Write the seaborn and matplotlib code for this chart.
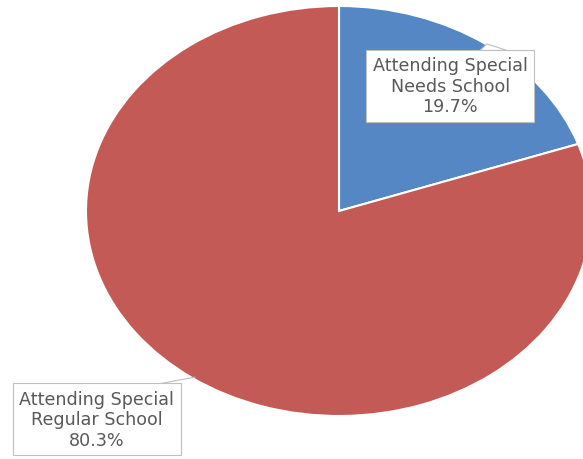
import matplotlib
matplotlib.use("Agg")
import matplotlib.pyplot as plt
import seaborn as sns

# Data
categories = ["Attending Special\nNeeds School", "Attending Special\nRegular School"]
shares = [19.7, 80.3]
slice_colors = ["#5487C4", "#C45A56"]

sns.set_style("white")
plt.rcParams['font.family'] = ['DejaVu Sans']

fig = plt.figure(figsize=(5.83, 4.6), dpi=100)
# pie is drawn as an ellipse, wider than tall, spilling past the right edge
ax = fig.add_axes([86 / 583, 43 / 460, 506 / 583, 410 / 460])

wedges, _ = ax.pie(shares, colors=slice_colors, startangle=90, counterclock=False,
                   radius=1, wedgeprops=dict(edgecolor="white", linewidth=1.5))
ax.set_aspect("auto")
ax.set_xlim(-1, 1)
ax.set_ylim(-1, 1)
ax.axis("off")

box = dict(boxstyle="square,pad=0.38", facecolor="white", edgecolor="#BFBFBF", linewidth=0.8)
label_pos = [(0.44, 0.61), (-0.957, -1.015)]
for name, pct, (lx, ly) in zip(categories, shares, label_pos):
    ax.text(lx, ly, f"{name}\n{pct:.1f}%", ha="center", va="center", fontsize=12.6,
            color="#595959", linespacing=1.18, bbox=box, clip_on=False, zorder=5)

# small callout notch on top of the small slice label
ax.fill([0.557, 0.585, 0.664], [0.783, 0.815, 0.783], facecolor="white",
        edgecolor="#BFBFBF", lw=0.8, zorder=4, clip_on=False)
# leader line for the big slice label
ax.plot([-0.715, -0.569], [-0.844, -0.81], color="#BFBFBF", lw=0.8, clip_on=False)

fig.savefig("out.png", dpi=100)
